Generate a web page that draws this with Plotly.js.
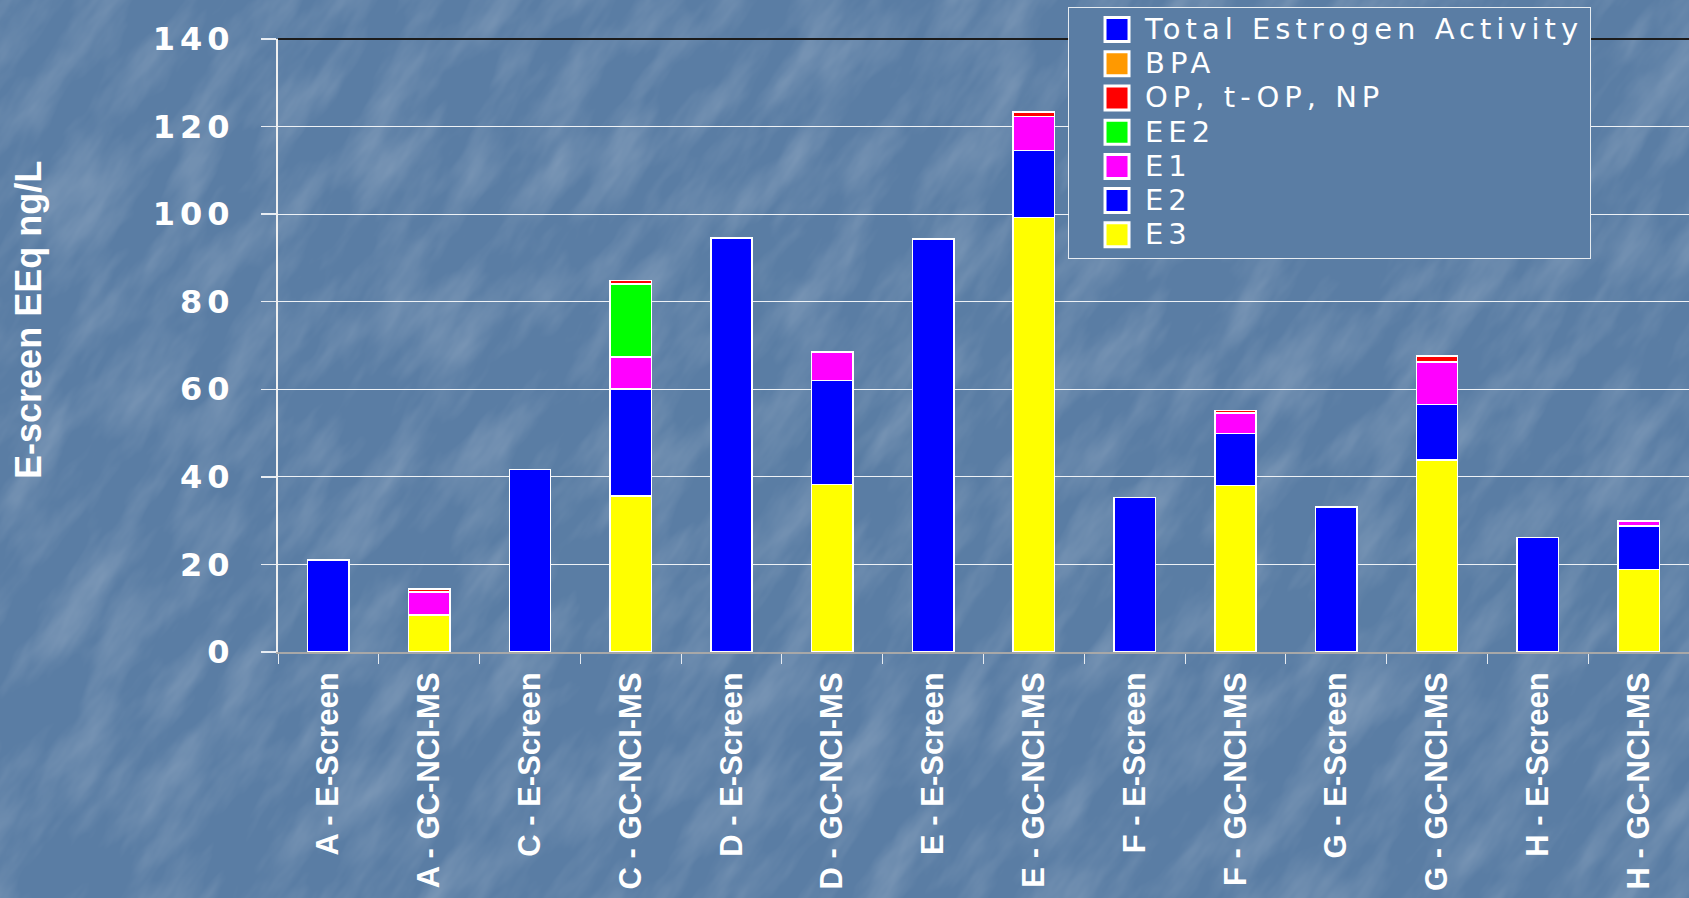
<!DOCTYPE html>
<html>
<head>
<meta charset="utf-8">
<script src="https://cdn.plot.ly/plotly-3.0.1.min.js"></script>
<style>
  html, body { margin: 0; padding: 0; }
  body {
    background-color: #5a7da4;
    background-image: url("data:image/svg+xml;utf8,<svg xmlns='http://www.w3.org/2000/svg' width='1689' height='898'><filter id='n' x='0' y='0' width='100%' height='100%'><feTurbulence type='fractalNoise' baseFrequency='0.009 0.028' numOctaves='4' seed='11'/><feColorMatrix values='0 0 0 0 1  0 0 0 0 1  0 0 0 0 1  0 0 0 0.38 -0.15'/></filter><g transform='rotate(-55 844 449)'><rect x='-900' y='-900' width='3500' height='2700' filter='url(%23n)'/></g></svg>");
    background-repeat: no-repeat;
  }
  #chart { width: 1689px; height: 898px; }
  .legendtext { font-size: 29px !important; letter-spacing: 5px; }
  .legendpoints path { transform: translate(48px, 0px) scale(2); }
  .ytick text { letter-spacing: 5px; }
</style>
</head>
<body>
<div id="chart"></div>
<script>
// ---- data ----
const categories = [
  "A - E-Screen", "A - GC-NCI-MS",
  "C - E-Screen", "C - GC-NCI-MS",
  "D - E-Screen", "D - GC-NCI-MS",
  "E - E-Screen", "E - GC-NCI-MS",
  "F - E-Screen", "F - GC-NCI-MS",
  "G - E-Screen", "G - GC-NCI-MS",
  "H - E-Screen", "H - GC-NCI-MS"
];
const totalActivity = [21.0, null, 41.7, null, 94.6, null, 94.3, null, 35.3, null, 33.1, null, 26.1, null];
const bpa          = [null, null, null, null, null, null, null, null, null, null, null, null, null, null];
const opTopNp      = [null, 0.7, null, 0.8, null, null, null, 1.0, null, 0.6, null, 1.4, null, null];
const ee2          = [null, null, null, 16.7, null, null, null, null, null, null, null, null, null, null];
const e1           = [null, 5.3, null, 7.3, null, 6.5, null, 7.8, null, 4.7, null, 9.7, null, 1.1];
const e2           = [null, null, null, 24.5, null, 23.7, null, 15.3, null, 11.9, null, 12.7, null, 10.0];
const e3           = [null, 8.4, null, 35.6, null, 38.3, null, 99.2, null, 38.0, null, 43.8, null, 18.8];
const yTicks = [0, 20, 40, 60, 80, 100, 120, 140];

// ---- styling ----
const bg = '#5a7da4';
const barLine = { color: '#ffffff', width: 1.5 };
function series(name, values, color) {
  return {
    type: 'bar', name: name, x: categories, y: values,
    width: 0.41,
    marker: { color: color, line: barLine },
    hoverinfo: 'x+y+name'
  };
}
const traces = [
  series('E3', e3, '#ffff00'),
  series('E2', e2, '#0000ff'),
  series('E1', e1, '#ff00ff'),
  series('EE2', ee2, '#00ff00'),
  series('OP, t-OP, NP', opTopNp, '#ff0000'),
  series('BPA', bpa, '#ff9900'),
  series('Total Estrogen Activity', totalActivity, '#0000ff')
];

const layout = {
  width: 1689, height: 898,
  margin: { l: 278, r: 0, t: 39, b: 246, pad: 0 },
  paper_bgcolor: 'rgba(0,0,0,0)', plot_bgcolor: 'rgba(0,0,0,0)',
  barmode: 'stack',
  showlegend: true,
  legend: {
    x: 0.5599, y: 1.053, xanchor: 'left', yanchor: 'top',
    bgcolor: bg, bordercolor: 'rgba(255,255,255,0.85)', borderwidth: 1,
    traceorder: 'reversed',
    itemwidth: 66,
    entrywidth: 535, entrywidthmode: 'pixels',
    font: { family: 'DejaVu Sans, Liberation Sans, sans-serif', size: 24, color: '#ffffff' }
  },
  xaxis: {
    type: 'category',
    range: [-0.5, 13.5],
    tickangle: -90,
    tickson: 'boundaries',
    ticks: 'outside', ticklen: 10, tickwidth: 1, tickcolor: '#e8edf3',
    ticklabelstandoff: 6,
    showline: true, linecolor: '#a8a8a8', linewidth: 2,
    showgrid: false, zeroline: false,
    tickfont: { family: 'Liberation Sans, Arial, sans-serif', size: 31, color: '#ffffff', weight: 'bold' },
    fixedrange: true
  },
  yaxis: {
    range: [0, 140],
    tickvals: yTicks,
    ticks: 'outside', ticklen: 15, tickwidth: 1.5, tickcolor: '#e8edf3',
    ticklabelstandoff: 20,
    showline: true, linecolor: '#f0f0f0', linewidth: 2,
    showgrid: true, gridcolor: '#eef2f6', gridwidth: 1.2,
    zeroline: false,
    tickfont: { family: 'DejaVu Sans, Liberation Sans, sans-serif', size: 32, color: '#ffffff', weight: 'bold' },
    fixedrange: true
  },
  shapes: [
    { type: 'line', xref: 'paper', yref: 'paper', x0: 0, x1: 1, y0: 1, y1: 1,
      line: { color: '#1c1c1c', width: 2 }, layer: 'above' }
  ],
  annotations: [
    { text: 'E-screen EEq ng/L', xref: 'paper', yref: 'paper', x: -0.1765, y: 0.5416,
      xanchor: 'center', yanchor: 'middle', textangle: -90, showarrow: false,
      font: { family: 'Liberation Sans, Arial, sans-serif', size: 36, color: '#ffffff', weight: 'bold' } }
  ]
};

Plotly.newPlot('chart', traces, layout, { displayModeBar: false, staticPlot: true });
</script>
</body>
</html>
